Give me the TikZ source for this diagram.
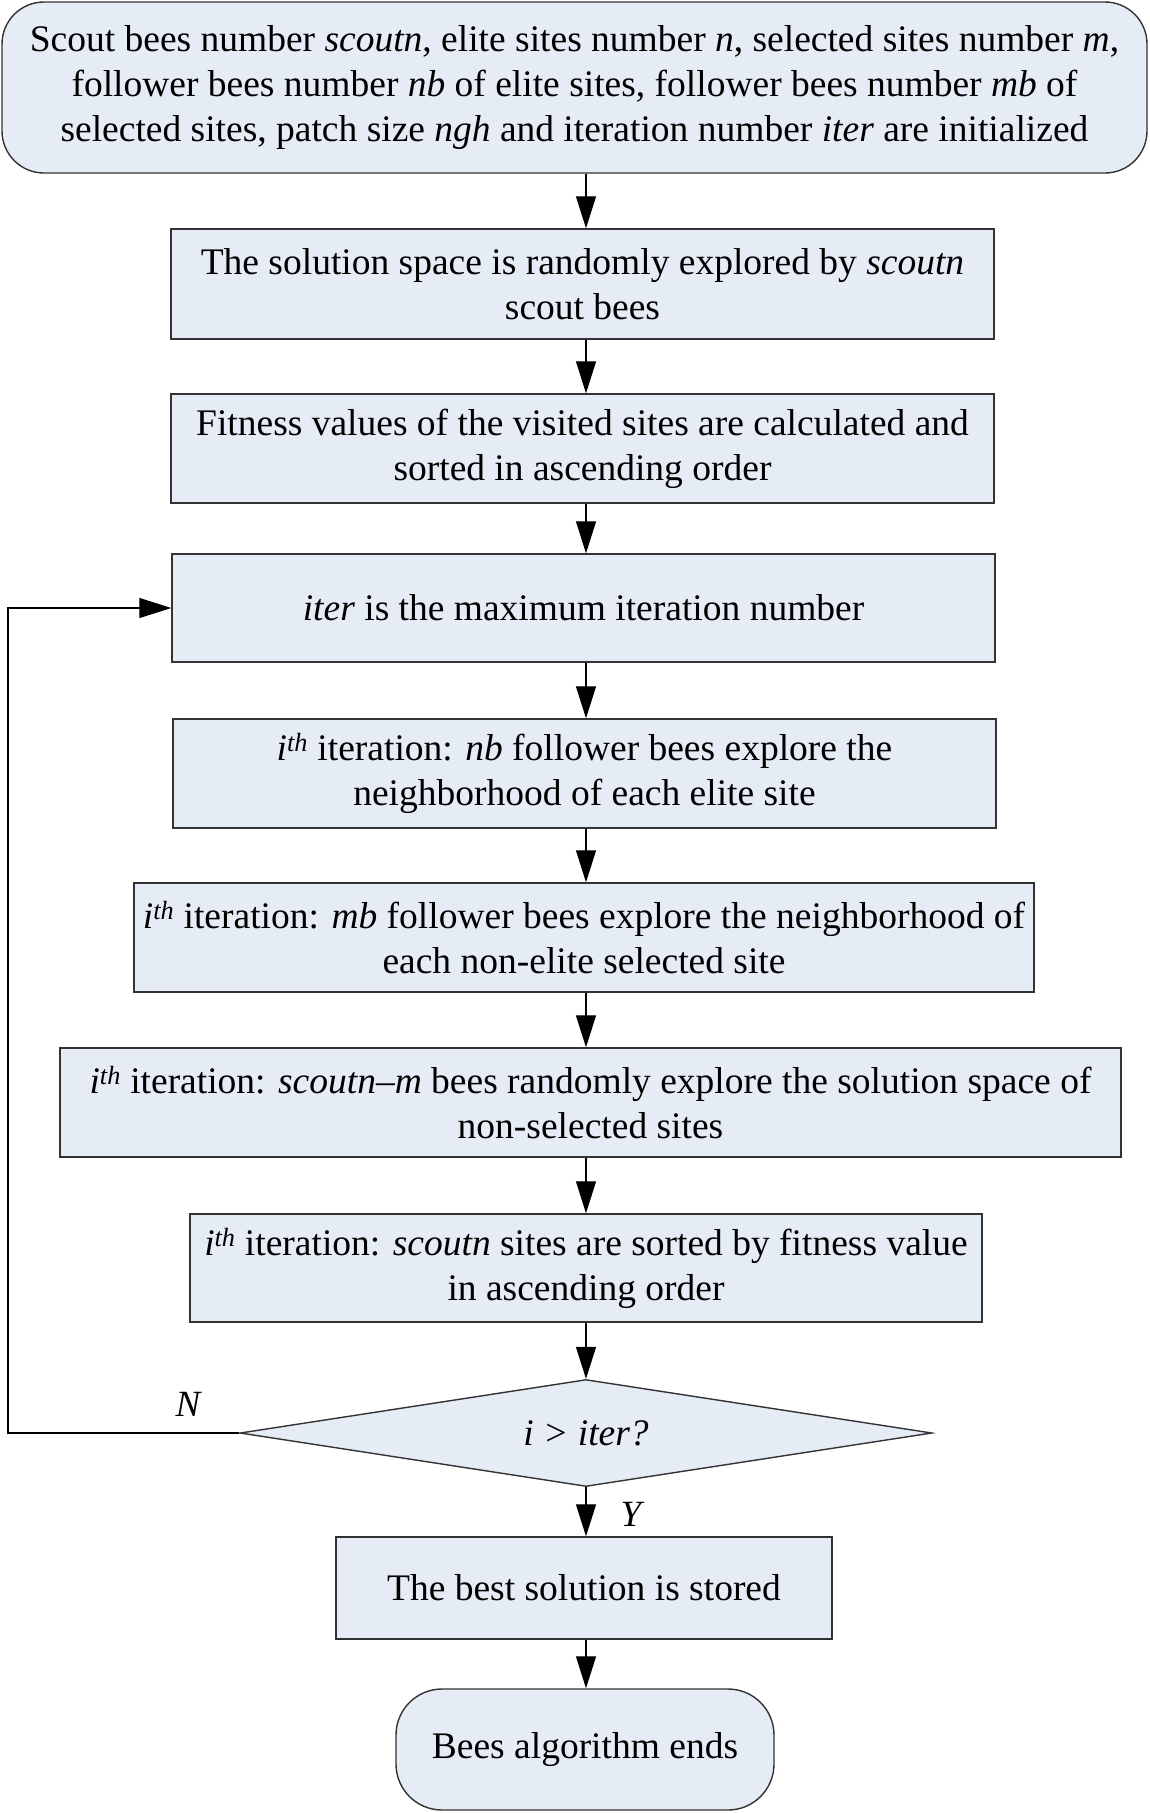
\documentclass[tikz,border=0pt]{standalone}
\usepackage{fontspec}
\setmainfont{Liberation Serif}
\usetikzlibrary{arrows.meta,shapes.geometric}
\definecolor{boxfill}{HTML}{E6ECF5}
\definecolor{boxline}{HTML}{333333}
\begin{document}
\begin{tikzpicture}[x=1pt,y=-1pt,
  every node/.style={font=\fontsize{37.5}{45}\selectfont, align=center, inner sep=0pt},
  proc/.style={draw=boxline, line width=1.4pt, fill=boxfill, rectangle},
  term/.style={proc, rounded corners=42pt},
  decide/.style={draw=boxline, line width=1.4pt, fill=boxfill, diamond, aspect=6.5},
  arr/.style={draw=black, line width=1.2pt, -{Triangle[length=32pt,width=20pt]}},
  lbl/.style={font=\fontsize{37}{40}\selectfont\itshape}]
\useasboundingbox (0,0) rectangle (1150,1813);
\node[term, minimum width=1145pt, minimum height=171pt] (start) at (574.5,87.5)
  {Scout bees number \textit{scoutn}, elite sites number \textit{n}, selected sites number \textit{m},\\
   follower bees number \textit{nb} of elite sites, follower bees number \textit{mb} of\\
   selected sites, patch size \textit{ngh} and iteration number \textit{iter} are initialized};
\node[proc, minimum width=823pt, minimum height=110pt] (b2) at (582.5,284)
  {The solution space is randomly explored by \textit{scoutn}\\ scout bees};
\node[proc, minimum width=823pt, minimum height=109pt] (b3) at (582.5,448.5)
  {Fitness values of the visited sites are calculated and\\ sorted in ascending order};
\node[proc, minimum width=823pt, minimum height=108pt] (b4) at (583.5,608)
  {\textit{iter} is the maximum iteration number};
\node[proc, minimum width=823pt, minimum height=109pt] (b5) at (584.5,773.5)
  {\textit{i}\textsuperscript{\textit{th}} iteration: \textit{nb} follower bees explore the\\ neighborhood of each elite site};
\node[proc, minimum width=900pt, minimum height=109pt] (b6) at (584,937.5)
  {\textit{i}\textsuperscript{\textit{th}} iteration: \textit{mb} follower bees explore the neighborhood of\\ each non-elite selected site};
\node[proc, minimum width=1061pt, minimum height=109pt] (b7) at (590.5,1102.5)
  {\textit{i}\textsuperscript{\textit{th}} iteration: \textit{scoutn--m} bees randomly explore the solution space of\\ non-selected sites};
\node[proc, minimum width=792pt, minimum height=108pt] (b8) at (586,1268)
  {\textit{i}\textsuperscript{\textit{th}} iteration: \textit{scoutn} sites are sorted by fitness value\\ in ascending order};
\node[decide, minimum width=692pt, minimum height=107pt] (dec) at (586,1433)
  {\textit{i > iter?}};
\node[proc, minimum width=496pt, minimum height=102pt] (b9) at (584,1588)
  {The best solution is stored};
\node[term, minimum width=378pt, minimum height=121pt, rounded corners=46pt] (end) at (585,1749.5)
  {Bees algorithm ends};
\coordinate (ax) at (586,0);
\coordinate (loopx) at (8,0);
\draw[arr] (start.south -| ax) -- (b2.north -| ax);
\draw[arr] (b2.south -| ax) -- (b3.north -| ax);
\draw[arr] (b3.south -| ax) -- (b4.north -| ax);
\draw[arr] (b4.south -| ax) -- (b5.north -| ax);
\draw[arr] (b5.south -| ax) -- (b6.north -| ax);
\draw[arr] (b6.south -| ax) -- (b7.north -| ax);
\draw[arr] (b7.south -| ax) -- (b8.north -| ax);
\draw[arr] (b8.south -| ax) -- (dec.north);
\draw[arr] (dec.south) -- (b9.north -| ax);
\draw[arr] (b9.south -| ax) -- (end.north -| ax);
\draw[arr] (dec.west) -- (dec.west -| loopx) -- (b4.west -| loopx) -- (b4.west);
\node[lbl] (nlab) at (188,1404) {N};
\node[lbl] (ylab) at (631,1514) {Y};
\end{tikzpicture}
\end{document}
